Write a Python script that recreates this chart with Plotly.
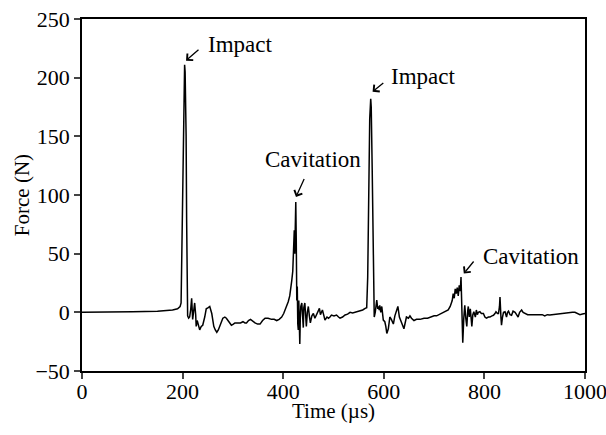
import plotly.graph_objects as go

# Time (µs)
t = [0, 50, 100, 150, 180, 190, 195,
     197, 199, 201, 203, 204, 205, 207, 208, 209, 210, 212, 214, 216, 218, 220, 222, 224, 226, 227, 229, 231, 234, 237, 240,
     244, 247, 251, 254, 258, 262, 265, 268, 271, 274, 277, 280, 284, 287, 292, 297, 301, 304, 310, 315, 320, 324, 327, 331,
     335, 340, 344, 349, 354, 359, 364, 370, 377, 382, 387, 392, 397, 401, 404, 407, 410, 413, 415, 417, 419, 421, 422, 423,
     424, 425, 426, 427, 428, 429, 430, 431, 432, 433, 434, 435, 437, 438, 440, 441, 443, 445, 446, 448, 450, 452, 454, 457,
     460, 463, 466, 468, 470, 472, 474, 476, 478, 481, 483, 487, 490, 493, 496, 501, 506, 510, 513, 518, 523, 528, 533, 538,
     543, 548, 553, 558, 563, 566, 568, 570, 572, 574, 575, 577, 579, 581, 583, 586, 588, 589, 591, 592, 594, 596, 599, 602,
     604, 606, 609, 612, 615, 619, 622, 626, 628, 631, 634, 637.5, 640, 645, 649, 652, 655, 660, 665, 672, 680, 687, 692, 700,
     705, 712, 718, 724, 728, 732, 736, 738, 740, 742, 744, 746, 748, 750, 752, 753.5, 755, 757, 759, 761, 763, 765, 767, 768,
     770, 772, 775, 777, 779, 782, 784, 786, 788, 791, 794, 798, 801, 804, 808, 811, 815, 818, 821, 823, 826, 828, 830, 831,
     833, 834, 836, 838, 841, 844, 846, 848, 851, 854, 857, 861, 864, 867, 870, 874, 877, 881, 886, 891, 896, 900, 905, 910,
     915, 920, 925, 930, 935, 940, 945, 950, 955, 960, 965, 970, 975, 980, 985, 990, 995, 1000]

# Force (N)
force = [0, 0, 0.5, 1, 2, 3, 5,
         8, 60, 150, 200, 211, 205, 150, 80, 20, -3, -5, -4, 2, 12, -6, 4, 8, -2, -12, -7, -10, -15, -12, -11,
         -4, 3, 4, 5, -1, -12, -15, -17, -15, -12, -8, -5, -4, -5, -8, -11, -10, -9, -9, -9, -8, -9, -9, -7,
         -6, -8, -9, -10, -10, -7, -5, -5, -6, -6, -7, -6, -4, -1, 2, 5, 9, 14, 19, 27, 35, 55, 70, 50,
         80, 94, 60, 10, 22, -10, -15, 10, -20, -27, -5, 5, 8, -5, -13, 4, 8, -5, -12, 0, 5, -3, -9, -3,
         -1, -5, -2, 0.5, 2, 3.4, -2, 0, 2, -3, -6.6, -4, -5, -4, -2.3, -3, -2.3, -4, -5, -4, -2.3, -1.5, 0, -0.5,
         0, 0.5, 1, 2, 3.4, 4, 30, 110, 165, 182, 175, 120, 40, -4, 0, 10.5, 3, 5, 2, 6, 0, 5, -6.6, -8,
         -12, -18, -14, -4, -6, -10, -3, 4, 5, -4, -8, -12, -14, -4, -5, -3, -5, -7, -6, -6, -5, -5, -4, -3,
         -3, -1.5, -0.5, 0.5, 2, 5, 10, 16, 12, 20, 16, 21, 14, 23, 18, 30, 5, -26, -5, 6, -5, -12, 2, 5,
         -4, 3, -12, -2, 0.5, -4, 2, -2, 0, 0.5, -1, -1, -4, -5, -4, -4, -3, -2.5, -1, 0.5, -1, -1, 5, 13,
         -5, -11, -4, 0, 0.5, -4, 0, 1, -2, -2.5, 1, 0, -2, -4, 0, 2, 0, -1, -2, -2, -2, -2.5, -2, -2.3,
         -2, -3, -2, -2.3, -2, -1.5, -1.5, -1, -1, -0.5, 0, 0, 0, 0, -1, -2, -1.5, -1]

x_ticks = [0, 200, 400, 600, 800, 1000]
y_ticks = [-50, 0, 50, 100, 150, 200, 250]
x_title = "Time (µs)"
y_title = "Force (N)"

# annotations: label, arrow head (t, F), arrow tail (t, F), text left edge (t, F)
labels = ["Impact", "Cavitation", "Impact", "Cavitation"]
head_t = [206.8, 425.4, 577.7, 759]
head_f = [214.5, 98.3, 188, 33]
tail_t = [234.6, 443, 602, 781]
tail_f = [225, 115, 196.6, 44.6]
text_t = [246, 360, 611, 793]
text_f = [228, 130, 201, 48]

FONT = "'Liberation Serif', 'Times New Roman', Times, 'DejaVu Serif', serif"

fig = go.Figure()
fig.add_trace(go.Scatter(x=t, y=force, mode="lines",
                         line=dict(color="black", width=1.5), showlegend=False,
                         hoverinfo="skip"))

annotations = []
for i in range(len(labels)):
    annotations.append(dict(x=head_t[i], y=head_f[i], ax=tail_t[i], ay=tail_f[i],
                            xref="x", yref="y", axref="x", ayref="y",
                            text="", showarrow=True, arrowhead=4, arrowsize=1.3,
                            arrowwidth=1.3, arrowcolor="black", standoff=0, startstandoff=0))
    annotations.append(dict(x=text_t[i], y=text_f[i], xref="x", yref="y",
                            text=labels[i], showarrow=False,
                            xanchor="left", yanchor="middle",
                            font=dict(family=FONT, size=23, color="black")))

# axis titles
annotations.append(dict(x=0.5, y=-0.114, xref="paper", yref="paper", text=x_title,
                        showarrow=False, xanchor="center", yanchor="middle",
                        font=dict(family=FONT, size=21, color="black")))
annotations.append(dict(x=-0.119, y=0.5, xref="paper", yref="paper", text=y_title,
                        showarrow=False, xanchor="center", yanchor="middle", textangle=-90,
                        font=dict(family=FONT, size=21, color="black")))

fig.update_layout(
    width=606, height=435,
    margin=dict(l=82, r=21, t=19, b=64, autoexpand=False),
    paper_bgcolor="white", plot_bgcolor="white",
    font=dict(family=FONT, size=22, color="black"),
    annotations=annotations,
    xaxis=dict(range=[0, 1000], tickvals=x_ticks, ticks="outside", ticklen=6, tickwidth=1.5,
               showline=True, linewidth=1.5, linecolor="black", mirror=True, showgrid=False,
               zeroline=False, automargin=False, ticklabelstandoff=-6,
               ticklabeloverflow="allow", tickfont=dict(family=FONT, size=22, color="black")),
    yaxis=dict(range=[-50, 250], tickvals=y_ticks, ticks="outside", ticklen=6, tickwidth=1.5,
               showline=True, linewidth=1.5, linecolor="black", mirror=True, showgrid=False,
               zeroline=False, automargin=False,
               ticklabeloverflow="allow", tickfont=dict(family=FONT, size=22, color="black")),
)

fig.write_html("out.html", config={"displayModeBar": False},
               post_script="document.body.style.margin='0';")
